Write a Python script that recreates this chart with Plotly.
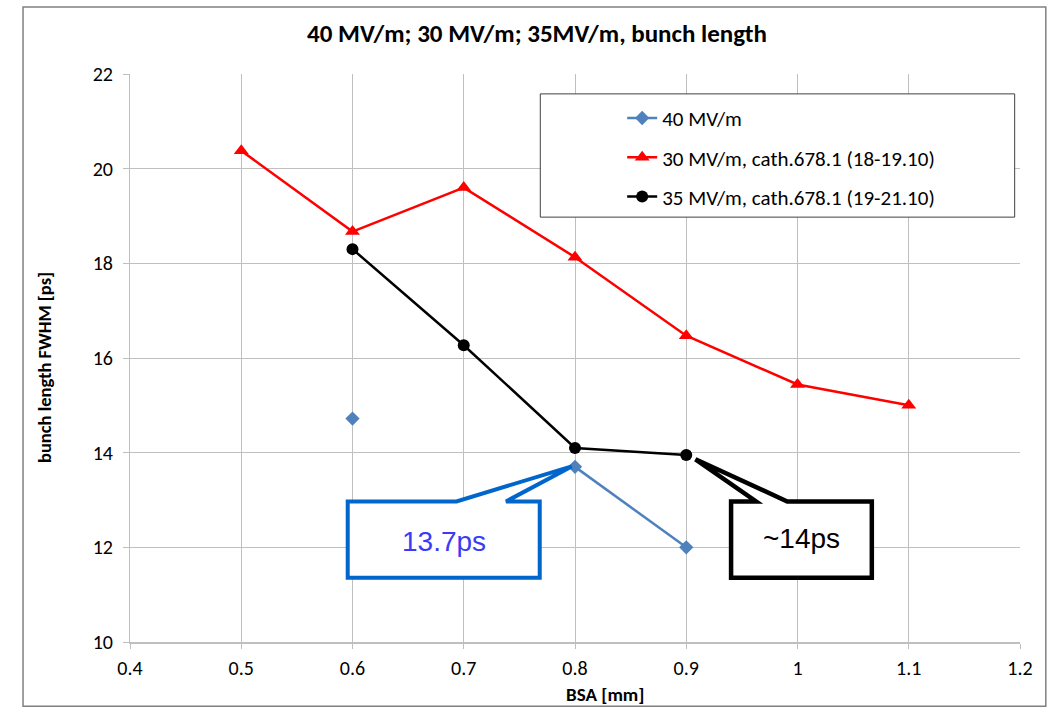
import plotly.graph_objects as go

# ---- data ----
x40 = [0.6, 0.7, 0.8, 0.9]
y40 = [14.72, None, 13.70, 12.00]

x30 = [0.5, 0.6, 0.7, 0.8, 0.9, 1.0, 1.1]
y30 = [20.38, 18.67, 19.60, 18.13, 16.47, 15.44, 15.00]

x35 = [0.6, 0.7, 0.8, 0.9]
y35 = [18.30, 16.27, 14.10, 13.95]

name40 = "40 MV/m"
name30 = "30 MV/m, cath.678.1 (18-19.10)"
name35 = "35 MV/m, cath.678.1 (19-21.10)"

title = "40 MV/m; 30 MV/m; 35MV/m, bunch length"
xtitle = "BSA [mm]"
ytitle = "bunch length FWHM [ps]"
xticks = [0.4, 0.5, 0.6, 0.7, 0.8, 0.9, 1.0, 1.1, 1.2]
xticklabels = ["0.4", "0.5", "0.6", "0.7", "0.8", "0.9", "1", "1.1", "1.2"]
yticks = [10, 12, 14, 16, 18, 20, 22]

call1_text = "13.7ps"
call2_text = "~14ps"

FONT = "Carlito, 'Liberation Sans Narrow', 'Liberation Sans', Arial, sans-serif"

fig = go.Figure()
fig.add_trace(go.Scatter(x=x40, y=y40, name=name40, mode="lines+markers",
                         connectgaps=False, legendgroup="a",
                         line=dict(color="#4f81bd", width=2.5),
                         marker=dict(symbol="diamond", size=11, color="#4f81bd")))
fig.add_trace(go.Scatter(x=x30, y=y30, name=name30, mode="lines+markers",
                         legendgroup="b",
                         line=dict(color="#ff0000", width=2.5),
                         marker=dict(symbol="triangle-up", size=13, color="#ff0000")))
fig.add_trace(go.Scatter(x=x35, y=y35, name=name35, mode="lines+markers",
                         legendgroup="c",
                         line=dict(color="#000000", width=2.5),
                         marker=dict(symbol="circle", size=12, color="#000000")))

shapes = []
# outer chart border
shapes.append(dict(type="rect", xref="paper", yref="paper",
                   x0=-0.1202, x1=1.029, y0=-0.113, y1=1.118,
                   line=dict(color="#808080", width=1.5), layer="below"))
# legend box
shapes.append(dict(type="rect", xref="paper", yref="paper",
                   x0=0.461, x1=0.994, y0=0.748, y1=0.965,
                   fillcolor="white", line=dict(color="#404040", width=1), layer="above"))

def callout(l, r, t, b, p1, p2, tipx, tipy, color, w):
    path = (f"M {l},{b} L {l},{t} L {p1},{t} L {tipx},{tipy} L {p2},{t} "
            f"L {r},{t} L {r},{b} Z")
    return dict(type="path", xref="x", yref="y", path=path, fillcolor="white",
                line=dict(color=color, width=w), layer="above")

# blue callout (data coords)
shapes.append(callout(0.5957, 0.7683, 12.97, 11.36, 0.6935, 0.738, 0.797, 13.71, "#0066cc", 4))
# black callout
shapes.append(callout(0.9403, 1.0668, 12.97, 11.36, 0.9628, 0.9908, 0.9083, 13.86, "#000000", 4.5))

annotations = [
    dict(x=0.682, y=12.13, xref="x", yref="y", text=call1_text, showarrow=False,
         font=dict(family="'Liberation Sans', Arial, sans-serif", size=28, color="#3b3bf5")),
    dict(x=1.0035, y=12.18, xref="x", yref="y", text=call2_text, showarrow=False,
         font=dict(family="'Liberation Sans', Arial, sans-serif", size=28, color="#000000")),
    # axis titles
    dict(x=(605 - 130) / 890, y=(642 - 694) / 568, xref="paper", yref="paper",
         text=f"<b>{xtitle}</b>", showarrow=False, xanchor="center", yanchor="middle",
         font=dict(family=FONT, size=19, color="#000000")),
    dict(x=(44 - 130) / 890, y=(642 - 368) / 568, xref="paper", yref="paper",
         text=f"<b>{ytitle}</b>", showarrow=False, textangle=-90,
         xanchor="center", yanchor="middle",
         font=dict(family=FONT, size=18.5, color="#000000")),
]

fig.update_layout(
    width=1048, height=709,
    margin=dict(l=130, r=28, t=74, b=67),
    paper_bgcolor="white", plot_bgcolor="white",
    font=dict(family=FONT, size=20, color="#000000"),
    title=dict(text=f"<b>{title}</b>", x=(537 / 1048), xanchor="center",
               y=1 - 33 / 709, yanchor="middle",
               font=dict(family=FONT, size=25, color="#000000")),
    showlegend=True,
    legend=dict(x=0.553, xanchor="left", y=0.958, yanchor="top",
                bgcolor="rgba(0,0,0,0)", borderwidth=0,
                font=dict(family=FONT, size=21, color="#000000"),
                tracegroupgap=9, itemwidth=30),
    shapes=shapes,
    annotations=annotations,
)

fig.update_xaxes(range=[0.4, 1.2], tickvals=xticks, ticktext=xticklabels,
                 showgrid=True, gridcolor="#bfbfbf", gridwidth=1,
                 showline=True, linecolor="#bfbfbf", linewidth=1.5,
                 ticks="outside", ticklen=5, tickcolor="#bfbfbf",
                 ticklabelstandoff=2,
                 zeroline=False, tickfont=dict(family=FONT, size=20))
fig.update_yaxes(range=[10, 22], tickvals=yticks,
                 showgrid=True, gridcolor="#bfbfbf", gridwidth=1,
                 showline=True, linecolor="#bfbfbf", linewidth=1,
                 ticks="outside", ticklen=6, tickcolor="#bfbfbf",
                 ticklabelstandoff=6,
                 zeroline=False, tickfont=dict(family=FONT, size=20))

fig.write_html("out.html")
